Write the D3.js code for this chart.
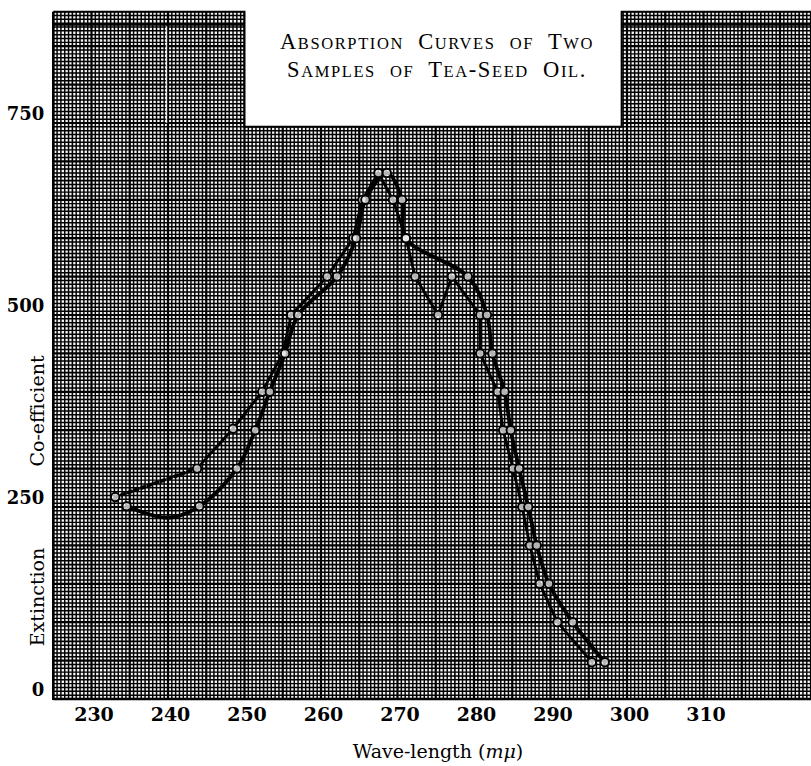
<!DOCTYPE html>
<html><head><meta charset="utf-8">
<script src="https://cdn.jsdelivr.net/npm/d3@7"></script>
<style>body{margin:0;background:#fff;} svg{display:block}</style>
</head><body><svg id="c" width="811" height="766"></svg>
<script>
// ---------- data ----------
const xTicks = [230, 240, 250, 260, 270, 280, 290, 300, 310];
const yTicks = [0, 250, 500, 750];
const titleLines = ["Absorption Curves of Two", "Samples of Tea-Seed Oil."];
const xTitle = ["Wave-length (", "mμ", ")"];
const yTitleParts = ["Extinction", "Co-efficient"];

// sample 1 (upper-left start, dip at 275)
const s1Wave = [233.1, 243.8, 248.5, 252.3, 255.0, 256.1, 260.8, 264.2, 265.4, 267.5, 269.4, 271.1, 272.3, 275.3, 277.1, 280.8, 280.8, 283.1, 283.8, 285.1, 286.3, 287.3, 288.6, 290.9, 295.4];
const s1Coef = [263, 300, 352, 400, 450, 500, 550, 600, 650, 685, 650, 600, 550, 500, 550, 500, 450, 400, 350, 300, 250, 200, 150, 100, 48];
// sample 2 (lower-left start)
const s2Wave = [234.6, 240.0, 244.1, 249.0, 251.4, 253.3, 255.3, 257.0, 262.1, 264.6, 265.8, 268.6, 270.6, 271.1, 279.2, 281.7, 282.4, 284.0, 284.8, 285.9, 287.1, 288.2, 289.8, 292.9, 297.1];
const s2Coef = [251, 236, 251, 300, 350, 400, 450, 500, 550, 600, 650, 685, 650, 600, 550, 500, 450, 400, 350, 300, 250, 200, 150, 100, 48];
const s2Marked = [1, 0, 1, 1, 1, 1, 1, 1, 1, 1, 1, 1, 1, 1, 1, 1, 1, 1, 1, 1, 1, 1, 1, 1, 1];

// paper sheet extents (data units)
const paperX = [225, 325];
const paperY = [0, 895];
const titleBoxX = [250, 299.3];
const titleBoxBottom = 745;
const insetBoxX = [280, 300];
const insetBoxY = [25, 145];

// ---------- scales ----------
const svg = d3.select("#c");
const x = d3.scaleLinear().domain([225, 325]).range([53.25, 818.25]);
const y = d3.scaleLinear().domain([0, 895]).range([699, 699 - 895 * 0.768]);

// ---------- paper ----------
const defs = svg.append("defs");
const clip = defs.append("clipPath").attr("id", "paper");
clip.append("rect").attr("x", x(paperX[0])).attr("y", y(paperY[1]))
  .attr("width", x(titleBoxX[0]) - x(paperX[0])).attr("height", y(0) - y(paperY[1]));
clip.append("rect").attr("x", x(titleBoxX[0]) - 0.5).attr("y", y(titleBoxBottom))
  .attr("width", x(titleBoxX[1]) - x(titleBoxX[0]) + 1).attr("height", y(0) - y(titleBoxBottom));
clip.append("rect").attr("x", x(titleBoxX[1])).attr("y", y(paperY[1]))
  .attr("width", 811 - x(titleBoxX[1])).attr("height", y(0) - y(paperY[1]));

const grid = svg.append("g").attr("clip-path", "url(#paper)");
grid.append("rect").attr("x", 0).attr("y", 0).attr("width", 811).attr("height", 766).attr("fill", "#f2f2f2");
const isMult = (v, m) => Math.abs(v / m - Math.round(v / m)) < 1e-6;
const vx = d3.range(paperX[0], paperX[1] + 0.01, 0.5);
const hy = d3.range(paperY[0], paperY[1] + 0.1, 5);
grid.selectAll("line.v").data(vx).join("line")
  .attr("x1", d => x(d)).attr("x2", d => x(d))
  .attr("y1", y(paperY[1])).attr("y2", y(0))
  .attr("stroke", "#000")
  .attr("stroke-width", d => isMult(d, 5) ? 2.2 : (isMult(d, 2.5) ? 1.6 : 1.45));
grid.selectAll("line.h").data(hy).join("line")
  .attr("x1", x(paperX[0])).attr("x2", 811)
  .attr("y1", d => y(d)).attr("y2", d => y(d))
  .attr("stroke", "#000")
  .attr("stroke-width", d => isMult(d, 50) ? 2.2 : (isMult(d, 25) ? 1.6 : 1.45));
// sheet seams / inset patch
grid.append("line").attr("x1", x(paperX[0])).attr("x2", 811).attr("y1", y(878)).attr("y2", y(878))
  .attr("stroke", "#000").attr("stroke-width", 2);
grid.append("line").attr("x1", x(239.8)).attr("x2", x(239.8)).attr("y1", y(876)).attr("y2", y(750))
  .attr("stroke", "#fff").attr("stroke-width", 1.5).attr("opacity", 0.8);
grid.append("rect").attr("x", x(insetBoxX[0])).attr("y", y(insetBoxY[1]))
  .attr("width", x(insetBoxX[1]) - x(insetBoxX[0])).attr("height", y(insetBoxY[0]) - y(insetBoxY[1]))
  .attr("fill", "none").attr("stroke", "#000").attr("stroke-width", 1.5);

// paper outline
const outline = [[paperX[0], paperY[1]], [titleBoxX[0], paperY[1]], [titleBoxX[0], titleBoxBottom],
  [titleBoxX[1], titleBoxBottom], [titleBoxX[1], paperY[1]], [paperX[1], paperY[1]]];
svg.append("path")
  .attr("d", d3.line().x(d => x(d[0])).y(d => y(d[1]))(outline))
  .attr("fill", "none").attr("stroke", "#000").attr("stroke-width", 2);
svg.append("line").attr("x1", x(paperX[0])).attr("x2", x(paperX[0])).attr("y1", y(paperY[1])).attr("y2", y(0) + 1)
  .attr("stroke", "#000").attr("stroke-width", 2.5);
svg.append("line").attr("x1", x(paperX[0])).attr("x2", 811).attr("y1", y(0)).attr("y2", y(0))
  .attr("stroke", "#000").attr("stroke-width", 2.5);

// ---------- curves ----------
const s1 = s1Wave.map((w, i) => ({w, c: s1Coef[i], m: 1}));
const s2 = s2Wave.map((w, i) => ({w, c: s2Coef[i], m: s2Marked[i]}));
const lineLin = d3.line().x(d => x(d.w)).y(d => y(d.c));
const lineSmooth = d3.line().x(d => x(d.w)).y(d => y(d.c)).curve(d3.curveCatmullRom.alpha(0.5));
const curves = svg.append("g").attr("fill", "none").attr("stroke", "#000").attr("stroke-linecap", "round").attr("stroke-linejoin", "round");
curves.append("path").attr("d", lineSmooth(s2)).attr("stroke-width", 3.8);
curves.append("path").attr("d", lineLin(s1.slice(0, 2))).attr("stroke-width", 3.8).attr("stroke-dasharray", "3,4");
curves.append("path").attr("d", lineLin(s1.slice(1))).attr("stroke-width", 2.8);
const markers = svg.append("g");
markers.selectAll("circle.a").data(s1).join("circle")
  .attr("cx", d => x(d.w)).attr("cy", d => y(d.c)).attr("r", 4.2)
  .attr("fill", "#ffffff").attr("fill-opacity", 0.7).attr("stroke", "#000").attr("stroke-width", 1.9);
markers.selectAll("circle.b").data(s2.filter(d => d.m)).join("circle")
  .attr("cx", d => x(d.w)).attr("cy", d => y(d.c)).attr("r", 4.2)
  .attr("fill", "#ffffff").attr("fill-opacity", 0.7).attr("stroke", "#000").attr("stroke-width", 1.9);

// ---------- axes ----------
const tickFont = "'DejaVu Serif', serif";
const xAxis = svg.append("g").attr("transform", `translate(2,${y(0)})`)
  .call(d3.axisBottom(x).tickValues(xTicks).tickSize(0).tickPadding(9).tickFormat(d3.format("d")));
xAxis.select(".domain").remove();
xAxis.selectAll("text").attr("font-family", tickFont).attr("font-weight", "bold").attr("font-size", 19).attr("fill", "#000");
const yAxis = svg.append("g").attr("transform", `translate(${x(paperX[0])},0)`)
  .call(d3.axisLeft(y).tickValues(yTicks).tickSize(0).tickPadding(9).tickFormat(d3.format("d")));
yAxis.select(".domain").remove();
yAxis.selectAll("text").attr("font-family", tickFont).attr("font-weight", "bold").attr("font-size", 18)
  .attr("fill", "#000").attr("transform", "translate(0,-9)");

// ---------- titles ----------
function smallCaps(sel, str, big, small) {
  const runs = [];
  for (const ch of str) {
    const lower = ch !== ch.toUpperCase();
    const size = lower ? small : big;
    if (runs.length && runs[runs.length - 1].size === size) runs[runs.length - 1].t += ch;
    else runs.push({t: ch, size});
  }
  runs.forEach(r => sel.append("tspan").attr("font-size", r.size).text(r.t.toUpperCase()));
}
const titleG = svg.append("g").attr("font-family", "'Liberation Serif', serif").attr("fill", "#000");
titleLines.forEach((t, i) => {
  const el = titleG.append("text").attr("x", 437).attr("y", 49 + i * 28).attr("text-anchor", "middle")
    .attr("letter-spacing", 1.6).attr("word-spacing", 7);
  smallCaps(el, t, 22.5, 16.5);
});

const xt = svg.append("text").attr("x", 438).attr("y", 758).attr("text-anchor", "middle")
  .attr("font-family", "'DejaVu Serif', serif").attr("font-size", 19).attr("fill", "#000");
xt.append("tspan").text(xTitle[0]);
xt.append("tspan").attr("font-style", "italic").text(xTitle[1]);
xt.append("tspan").text(xTitle[2]);

[[yTitleParts[0], 597], [yTitleParts[1], 411]].forEach(([t, cy]) => {
  svg.append("text").attr("transform", `translate(44,${cy}) rotate(-90)`).attr("text-anchor", "middle")
    .attr("font-family", "'DejaVu Serif', serif").attr("font-size", 19).attr("fill", "#000").text(t);
});
</script></body></html>
